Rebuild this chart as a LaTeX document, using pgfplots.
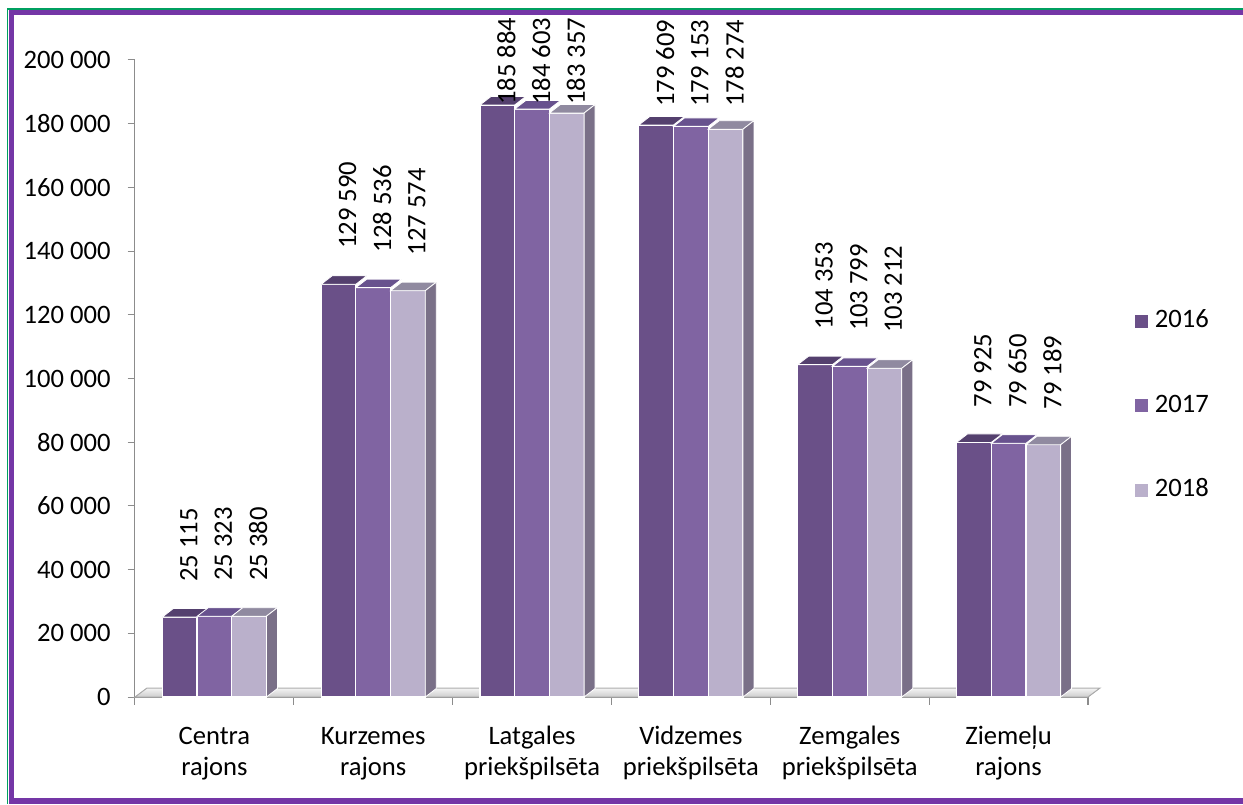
\documentclass[border=0pt]{standalone}
\usepackage{pgfplots}
\pgfplotsset{compat=1.18}
\usepackage{pgfplotstable}
\usepackage{fontspec}
\setmainfont{Carlito}
\definecolor{cA}{HTML}{6A5088}
\definecolor{cB}{HTML}{8064A2}
\definecolor{cC}{HTML}{BAB0CB}
\definecolor{tA}{HTML}{54406E}
\definecolor{tB}{HTML}{68528E}
\definecolor{tC}{HTML}{908AA0}
\definecolor{sC}{HTML}{7A7088}
\definecolor{frameP}{HTML}{7436A6}
\definecolor{frameG}{HTML}{00A060}
\newcommand\fnt{\fontsize{13.3pt}{15.5pt}\selectfont}
\newcommand\lab[2]{\begin{tabular}[t]{@{}c@{}}#1\\#2\end{tabular}}
\pgfdeclareplotmark{nothing}{}

\pgfplotstableread[col sep=comma]{
x,y,k,off
-0.2185,25115,25.115,17.5
0.7815,129590,129.590,17.5
1.7815,185884,185.884,0
2.7815,179609,179.609,9
3.7815,104353,104.353,17.5
4.7815,79925,79.925,17.5
}\tblA
\pgfplotstableread[col sep=comma]{
x,y,k,off
0,25323,25.323,17.5
1,128536,128.536,17.5
2,184603,184.603,2
3,179153,179.153,9.7
4,103799,103.799,17.5
5,79650,79.650,17.5
}\tblB
\pgfplotstableread[col sep=comma]{
x,y,k,off
0.2185,25380,25.380,17.5
1.2185,127574,127.574,17.5
2.2185,183357,183.357,4
3.2185,178274,178.274,11
4.2185,103212,103.212,17.5
5.2185,79189,79.189,17.5
}\tblC

\pgfplotsset{
  bars/.style={ybar, bar width=17.35pt, bar shift=0pt, fill=#1, draw=white, line width=0.6pt,
    legend image code/.code={\fill[#1, draw=none] (0pt,-4.05pt) rectangle (6.5pt,2.45pt); \path[draw=none, fill=none] (0pt,0pt) -- (10pt,0pt);}},
  topface/.style={forget plot, only marks, mark=nothing, scatter,
    scatter/@pre marker code/.code={%
      \fill[#1, draw=white, line width=0.4pt] (-8.675pt,0pt) -- (8.675pt,0pt) -- (14.175pt,4.25pt) -- (-3.175pt,4.25pt) -- cycle;%
    },
    scatter/@post marker code/.code={}},
  topside/.style n args={2}{forget plot, only marks, mark=nothing, scatter,
    visualization depends on={\thisrow{k}\as\kk},
    scatter/@pre marker code/.code={%
      \pgfmathsetmacro\hh{\kk/200*318.5}%
      \fill[#1, draw=white, line width=0.4pt] (-8.675pt,0pt) -- (8.675pt,0pt) -- (14.175pt,4.25pt) -- (-3.175pt,4.25pt) -- cycle;%
      \fill[#2, draw=white, line width=0.4pt] (8.675pt,0pt) -- (14.175pt,4.25pt) -- (14.175pt,4.25pt-\hh pt) -- (8.675pt,-\hh pt) -- cycle;%
    },
    scatter/@post marker code/.code={}},
  labs/.style={forget plot, only marks, mark=nothing,
    visualization depends on={\thisrow{off}\as\off},
    nodes near coords,
    every node near coord/.append style={font=\fnt, text=black, inner sep=0pt, xshift=4.5pt, yshift=\off pt, rotate=90, anchor=west}},
}

\begin{document}
\begin{tikzpicture}
\useasboundingbox (0,0) rectangle (621.5pt,402pt);
\begin{axis}[
  at={(67.5pt,53.5pt)}, anchor=south west,
  scale only axis, width=476.5pt, height=318.5pt,
  xmin=-0.5, xmax=5.5, ymin=0, ymax=200000,
  clip=false,
  axis x line*=bottom, axis y line*=left,
  axis line style={draw=black!45, line width=0.5pt},
  tick style={draw=black!45, line width=0.5pt},
  tick align=outside,
  major tick length=3.75pt,
  ytick={0,20000,40000,60000,80000,100000,120000,140000,160000,180000,200000},
  scaled y ticks=false,
  xtick={-0.5,0.5,1.5,2.5,3.5,4.5,5.5}, xticklabels={},
  extra x ticks={0,1,2,3,4,5},
  extra x tick labels={\lab{Centra}{rajons},\lab{Kurzemes}{rajons},\lab{Latgales}{priekšpilsēta},\lab{Vidzemes}{priekšpilsēta},\lab{Zemgales}{priekšpilsēta},\lab{Ziemeļu}{rajons}},
  extra x tick style={tick style={draw=none}},
  tick label style={font=\fnt},
  xticklabel style={anchor=base, yshift=-20pt},
  yticklabel style={inner sep=0pt, xshift=-8.25pt},
  /pgf/number format/.cd, fixed, precision=0, 1000 sep={\ }, assume math mode=true,
  /pgfplots/.cd,
  legend style={draw=none, fill=none, at={(axis description cs:1.0488,0.4600)}, anchor=west,
    inner sep=0pt, row sep=33.85pt, font=\fnt,
    nodes={inner sep=0pt, text height=8.4pt, text depth=0pt}},
  legend cell align=left,
]
\fill[top color=gray!8, bottom color=gray!40, draw=gray!65, line width=0.5pt]
  (axis cs:-0.5,0) -- (axis cs:5.5,0) -- ([shift={(6pt,4.5pt)}]axis cs:5.5,0) -- ([shift={(6pt,4.5pt)}]axis cs:-0.5,0) -- cycle;
\addplot[bars=cA] table[x=x,y=y]{\tblA};
\addlegendentry{2016}
\addplot[topface=tA] table[x=x,y=y]{\tblA};
\addplot[bars=cB] table[x=x,y=y]{\tblB};
\addlegendentry{2017}
\addplot[topface=tB] table[x=x,y=y]{\tblB};
\addplot[bars=cC] table[x=x,y=y]{\tblC};
\addlegendentry{2018}
\addplot[topside={tC}{sC}] table[x=x,y=y]{\tblC};
\addplot[labs] table[x=x,y=y]{\tblA};
\addplot[labs] table[x=x,y=y]{\tblB};
\addplot[labs] table[x=x,y=y]{\tblC};
\end{axis}
\draw[frameG, line width=0.75pt] (3.75pt,0pt) -- (3.75pt,397.4pt) -- (621.5pt,397.4pt);
\draw[frameP, line width=2.5pt] (5.75pt,1.5pt) -- (5.75pt,395.75pt) -- (621.5pt,395.75pt);
\draw[frameP, line width=3pt] (621.5pt,1.5pt) -- (4.5pt,1.5pt);
\end{tikzpicture}
\end{document}
